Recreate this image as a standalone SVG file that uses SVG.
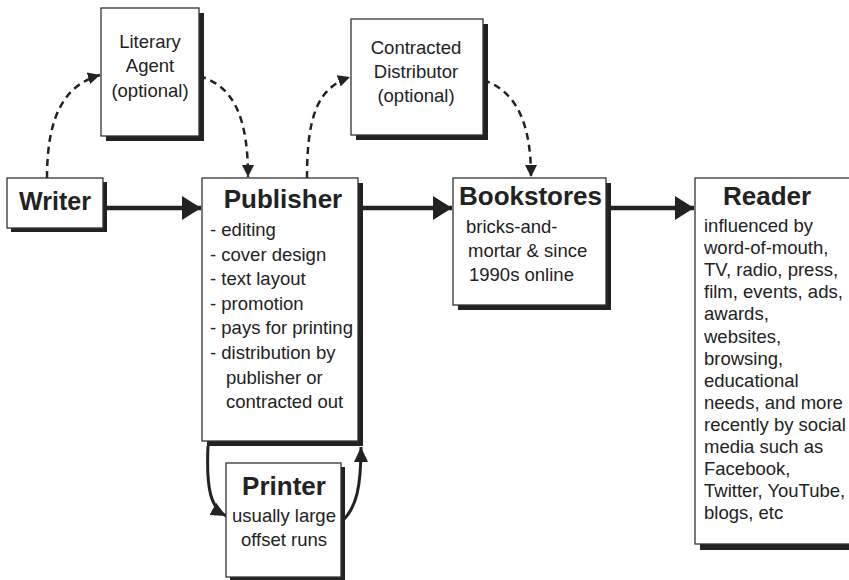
<svg xmlns="http://www.w3.org/2000/svg" width="849" height="580" viewBox="0 0 849 580">
<defs>
<style>
.box{fill:#fff;stroke:#333;stroke-width:1.3}
.sh{fill:#222}
.t{font-family:"Liberation Sans",Arial,sans-serif;font-size:18.5px;fill:#222}
.b{font-family:"Liberation Sans",Arial,sans-serif;font-size:26px;font-weight:bold;fill:#222}
.c{text-anchor:middle}
.thick{fill:none;stroke:#222;stroke-width:4.5}
.dash{fill:none;stroke:#222;stroke-width:2.5;stroke-dasharray:7 5}
.curve{fill:none;stroke:#222;stroke-width:3}
</style>
<marker id="big" markerUnits="userSpaceOnUse" markerWidth="20" markerHeight="24" refX="19" refY="12" orient="auto">
<path d="M0,0 L19,12 L0,24 Z" fill="#222"/>
</marker>
<marker id="small" markerUnits="userSpaceOnUse" markerWidth="14" markerHeight="14" refX="12" refY="7" orient="auto">
<path d="M0,1 L12,7 L0,13 Z" fill="#222"/>
</marker>
<marker id="mid" markerUnits="userSpaceOnUse" markerWidth="16" markerHeight="16" refX="15" refY="8" orient="auto">
<path d="M0,1 L15,8 L0,15 Z" fill="#222"/>
</marker>
</defs>
<rect width="849" height="580" fill="#fff"/>

<g id="connectors">
<path class="thick" d="M103,208 L201,208" marker-end="url(#big)"/>
<path class="thick" d="M363,208 L452,208" marker-end="url(#big)"/>
<path class="thick" d="M610,208 L694,208" marker-end="url(#big)"/>
<path class="dash" d="M47,178 C47,115 65,85 100,75" marker-end="url(#small)"/>
<path class="dash" d="M199,76 C235,86 248,120 248,177" marker-end="url(#small)"/>
<path class="dash" d="M307,178 C307,115 318,88 350,77" marker-end="url(#small)"/>
<path class="dash" d="M483,80 C520,92 531,130 531,177" marker-end="url(#small)"/>
<path class="curve" d="M208,446 C206,490 211,508 226,516" marker-end="url(#mid)"/>
<path class="curve" d="M342,521 C357,508 361,485 361,447" marker-end="url(#mid)"/>
</g>

<g id="writer">
<rect class="sh" x="11" y="182" width="96" height="50"/>
<rect class="box" x="7" y="178" width="96" height="50"/>
<text class="b" x="55" y="210" text-anchor="middle" style="font-size:25px">Writer</text>
</g>

<g id="literary-agent">
<rect class="sh" x="106" y="13" width="98" height="128"/>
<rect class="box" x="101" y="8" width="98" height="128"/>
<text class="t c" x="150" y="48">Literary</text>
<text class="t c" x="150" y="72">Agent</text>
<text class="t c" x="150" y="97">(optional)</text>
</g>

<g id="publisher">
<rect class="sh" x="207" y="183" width="156" height="263"/>
<rect class="box" x="202" y="178" width="156" height="263"/>
<text class="b c" x="283" y="208">Publisher</text>
<text class="t" x="210" y="236">- editing</text>
<text class="t" x="210" y="260.6">- cover design</text>
<text class="t" x="210" y="285.2">- text layout</text>
<text class="t" x="210" y="309.8">- promotion</text>
<text class="t" x="210" y="334.4">- pays for printing</text>
<text class="t" x="210" y="359">- distribution by</text>
<text class="t" x="226" y="383.6">publisher or</text>
<text class="t" x="226" y="408.2">contracted out</text>
</g>

<g id="printer">
<rect class="sh" x="230" y="467" width="115" height="114"/>
<rect class="box" x="226" y="463" width="115" height="114"/>
<text class="b c" x="284" y="495">Printer</text>
<text class="t c" x="284" y="522">usually large</text>
<text class="t c" x="284" y="546">offset runs</text>
</g>

<g id="distributor">
<rect class="sh" x="356" y="24" width="132" height="116"/>
<rect class="box" x="351" y="19" width="132" height="116"/>
<text class="t c" x="416" y="54">Contracted</text>
<text class="t c" x="416" y="78">Distributor</text>
<text class="t c" x="416" y="102">(optional)</text>
</g>

<g id="bookstores">
<rect class="sh" x="458" y="183" width="153" height="127"/>
<rect class="box" x="453" y="178" width="153" height="127"/>
<text class="b" x="459" y="205">Bookstores</text>
<text class="t" x="466" y="233">bricks-and-</text>
<text class="t" x="468" y="257">mortar &amp; since</text>
<text class="t" x="469" y="281">1990s online</text>
</g>

<g id="reader">
<rect class="sh" x="700" y="183" width="170" height="367"/>
<rect class="box" x="695" y="178" width="170" height="366"/>
<text class="b" x="723" y="205">Reader</text>
<text class="t" x="704" y="232">influenced by</text>
<text class="t" x="704" y="254.1">word-of-mouth,</text>
<text class="t" x="704" y="276.2">TV, radio, press,</text>
<text class="t" x="704" y="298.3">film, events, ads,</text>
<text class="t" x="704" y="320.4">awards,</text>
<text class="t" x="704" y="342.5">websites,</text>
<text class="t" x="704" y="364.6">browsing,</text>
<text class="t" x="704" y="386.7">educational</text>
<text class="t" x="704" y="408.8">needs, and more</text>
<text class="t" x="704" y="430.9">recently by social</text>
<text class="t" x="704" y="453">media such as</text>
<text class="t" x="704" y="475.1">Facebook,</text>
<text class="t" x="704" y="497.2">Twitter, YouTube,</text>
<text class="t" x="704" y="519.3">blogs, etc</text>
</g>
</svg>
